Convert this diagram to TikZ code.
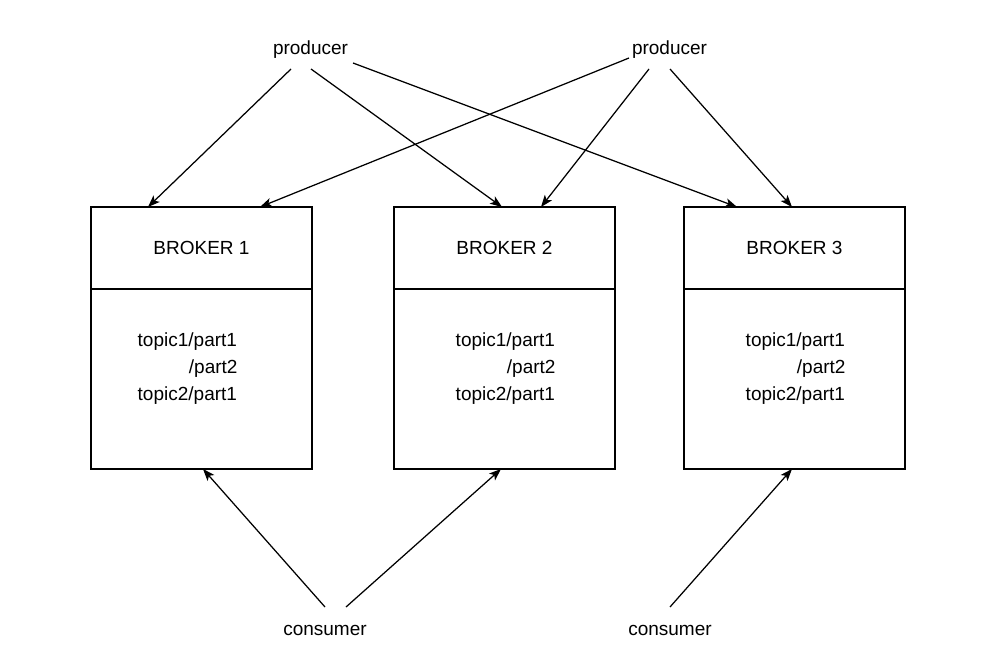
\documentclass[tikz,border=0pt]{standalone}
\usepackage{fontspec}
\setmainfont{Liberation Sans}
\usetikzlibrary{arrows.meta,calc}
\begin{document}
\begin{tikzpicture}[x=1pt,y=-1pt,
  font=\fontsize{19}{23}\selectfont,
  lbl/.style={inner sep=0pt,outer sep=0pt,anchor=base},
  tpc/.style={inner sep=0pt,outer sep=0pt,anchor=base east},
  brokerbox/.style={draw,line width=1.25pt,minimum width=221pt,minimum height=262pt,inner sep=0pt,outer sep=0pt},
  conn/.style={line width=1.25pt,-{Stealth[length=12pt,width=9pt,inset=3pt]}}]
\useasboundingbox (0,0) rectangle (1004,650);
\fill[white] (0,0) rectangle (1004,650);
% brokers
\node[brokerbox] (b1) at (201.5,338) {};
\node[brokerbox] (b2) at (504.5,338) {};
\node[brokerbox] (b3) at (794.5,338) {};
\foreach \b in {b1,b2,b3}{
  \draw[line width=1.25pt] ($(\b.north west)+(0,82)$) -- ($(\b.north east)+(0,82)$);
}
\node[lbl] (t1) at (201.5,254.5) {BROKER 1};
\node[lbl] (t2) at (504.5,254.5) {BROKER 2};
\node[lbl] (t3) at (794.5,254.5) {BROKER 3};
% topic lists
\node[tpc] (b1l1) at (237,346.5) {topic1/part1};
\node[tpc] (b1l2) at (237.5,373) {/part2};
\node[tpc] (b1l3) at (237,400) {topic2/part1};
\node[tpc] (b2l1) at (555,346.5) {topic1/part1};
\node[tpc] (b2l2) at (555.5,373) {/part2};
\node[tpc] (b2l3) at (555,400) {topic2/part1};
\node[tpc] (b3l1) at (845,346.5) {topic1/part1};
\node[tpc] (b3l2) at (845.5,373) {/part2};
\node[tpc] (b3l3) at (845,400) {topic2/part1};
% producers and consumers
\node[lbl] (p1) at (310.5,55) {producer};
\node[lbl] (p2) at (669.5,55) {producer};
\node[lbl] (c1) at (325,635) {consumer};
\node[lbl] (c2) at (670,635) {consumer};
% connector end points
\coordinate (p1a) at (291,69);
\coordinate (p1b) at (311,69);
\coordinate (p1c) at (353,63);
\coordinate (p2a) at (629,58);
\coordinate (p2b) at (649,69);
\coordinate (p2c) at (670,69);
\coordinate (c1a) at (325,607);
\coordinate (c1b) at (346,607);
\coordinate (c2a) at (670,607);
\coordinate (b1ta) at (148,207);
\coordinate (b1tb) at (260,207);
\coordinate (b2ta) at (502,207);
\coordinate (b2tb) at (541,207);
\coordinate (b3ta) at (737,207);
\coordinate (b3tb) at (792,207);
\coordinate (b1b) at (203,469);
\coordinate (b2b) at (501,469);
\coordinate (b3b) at (792,469);
% connectors
\draw[conn] (p1a) -- (b1ta);
\draw[conn] (p1b) -- (b2ta);
\draw[conn] (p1c) -- (b3ta);
\draw[conn] (p2a) -- (b1tb);
\draw[conn] (p2b) -- (b2tb);
\draw[conn] (p2c) -- (b3tb);
\draw[conn] (c1a) -- (b1b);
\draw[conn] (c1b) -- (b2b);
\draw[conn] (c2a) -- (b3b);
\end{tikzpicture}
\end{document}
